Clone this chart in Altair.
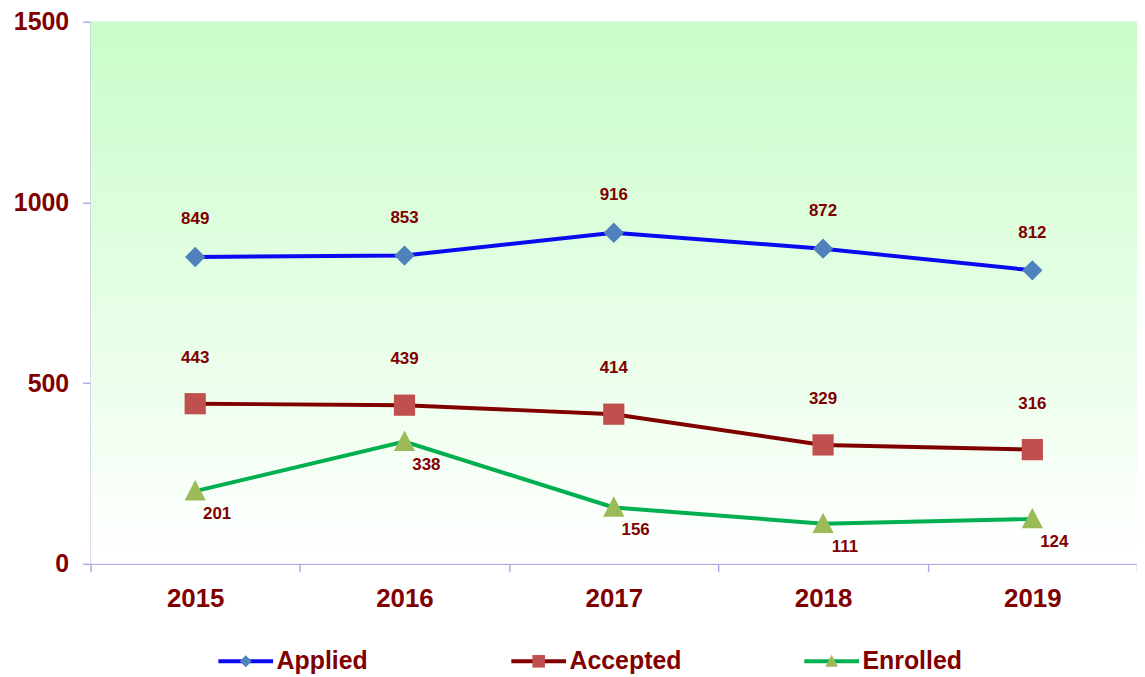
import altair as alt
import pandas as pd

# ---- data ----
years = ["2015", "2016", "2017", "2018", "2019"]
series_names = ["Applied", "Accepted", "Enrolled"]
applied = [849, 853, 916, 872, 812]
accepted = [443, 439, 414, 329, 316]
enrolled = [201, 338, 156, 111, 124]
y_ticks = [0, 500, 1000, 1500]

# ---- styles ----
W, H = 1052, 545
line_colors = ["#0a0af0", "#800000", "#00b050"]
marker_colors = ["#4f81bd", "#c0504d", "#9bbb59"]
marker_paths = [
    "M-0.22,0L0,-0.22L0.22,0L0,0.22Z",
    "M-0.23,-0.23H0.23V0.23H-0.23Z",
    "M0,-0.24L0.23,0.2H-0.23Z",
]
TXT = "#800000"
AXC = "#b4a8ea"
FONT = "Liberation Sans"
LEGEND_RANGE = [156, 745]   # legend symbol centres (px, relative to plot)
LEGEND_Y = 643

rows = []
for name, vals in zip(series_names, [applied, accepted, enrolled]):
    for yr, v in zip(years, vals):
        rows.append({"year": yr, "series": name, "value": v})
df = pd.DataFrame(rows)
legend_df = pd.DataFrame({"series": series_names})

stroke_scale = alt.Scale(domain=series_names, range=line_colors)
fill_scale = alt.Scale(domain=series_names, range=marker_colors)
shape_scale = alt.Scale(domain=series_names, range=marker_paths)

x_enc = alt.X(
    "year:O",
    bandPosition=0.5,
    scale=alt.Scale(type="band", paddingInner=0, paddingOuter=0),
    axis=alt.Axis(
        title=None, labelAngle=0, tickBand="extent", labelFont=FONT,
        labelFontSize=26, labelFontWeight="bold", labelColor=TXT,
        labelPadding=14, tickSize=8, tickColor=AXC, domainColor=AXC,
        domainWidth=1.5, tickWidth=1.5,
    ),
)
y_enc = alt.Y(
    "value:Q",
    scale=alt.Scale(domain=[0, 1500], nice=False),
    axis=alt.Axis(
        title=None, values=y_ticks, grid=False, format="d", labelFont=FONT,
        labelFontSize=25, labelFontWeight="bold", labelColor=TXT,
        labelPadding=14, tickSize=8, tickColor=AXC, domainColor=AXC,
        domainWidth=1.5, tickWidth=1.5,
    ),
)

bg = alt.Chart(pd.DataFrame({"k": [0]})).mark_rect(
    color=alt.LinearGradient(
        gradient="linear", x1=0, x2=0, y1=0, y2=1,
        stops=[alt.GradientStop(offset=0, color="#c9fdc9"),
               alt.GradientStop(offset=1, color="#ffffff")],
    )
).encode(x=alt.value(0), x2=alt.value(W), y=alt.value(0), y2=alt.value(H))

base = alt.Chart(df)

lines = base.mark_line(strokeWidth=4).encode(
    x=x_enc, y=y_enc,
    stroke=alt.Stroke("series:N", scale=stroke_scale, legend=None),
)

points = base.mark_point(filled=True, size=8600, opacity=1).encode(
    x=x_enc, y=y_enc,
    fill=alt.Fill("series:N", scale=fill_scale, legend=None),
    shape=alt.Shape("series:N", scale=shape_scale, legend=None),
)

def labels(name, dx, dy):
    return base.transform_filter(alt.datum.series == name).mark_text(
        font=FONT, fontSize=17, fontWeight="bold", color=TXT, dx=dx, dy=dy,
        align="center", baseline="middle",
    ).encode(x=x_enc, y=y_enc, text="value:Q")

main = alt.layer(
    bg, lines, points,
    labels("Applied", 0, -38),
    labels("Accepted", 0, -46),
    labels("Enrolled", 22, 23),
)

# ---- legend drawn as marks ----
lx = alt.X("series:N", sort=series_names, axis=None,
           scale=alt.Scale(type="point", range=LEGEND_RANGE, padding=0))
lbase = alt.Chart(legend_df)
leg_line = lbase.mark_point(
    shape="M-1,0H1", filled=False, size=3025, strokeWidth=4, opacity=1
).encode(x=lx, y=alt.value(LEGEND_Y),
         stroke=alt.Stroke("series:N", scale=stroke_scale, legend=None))
leg_mark = lbase.mark_point(filled=True, size=3025, opacity=1).encode(
    x=lx, y=alt.value(LEGEND_Y),
    fill=alt.Fill("series:N", scale=fill_scale, legend=None),
    shape=alt.Shape("series:N", scale=shape_scale, legend=None),
)
leg_text = lbase.mark_text(
    font=FONT, fontSize=25, fontWeight="bold", color=TXT, align="left",
    baseline="middle", dx=31,
).encode(x=lx, y=alt.value(LEGEND_Y), text="series:N")
legend = alt.layer(leg_line, leg_mark, leg_text)

chart = alt.layer(main, legend).resolve_scale(x="independent").properties(
    width=W, height=H,
    autosize=alt.AutoSizeParams(type="none"),
    padding={"left": 83, "top": 12, "right": 0, "bottom": 110},
).configure_view(
    stroke=None,
).configure(background="white")

chart.save("out.html", embed_options={"renderer": "svg", "actions": False})
